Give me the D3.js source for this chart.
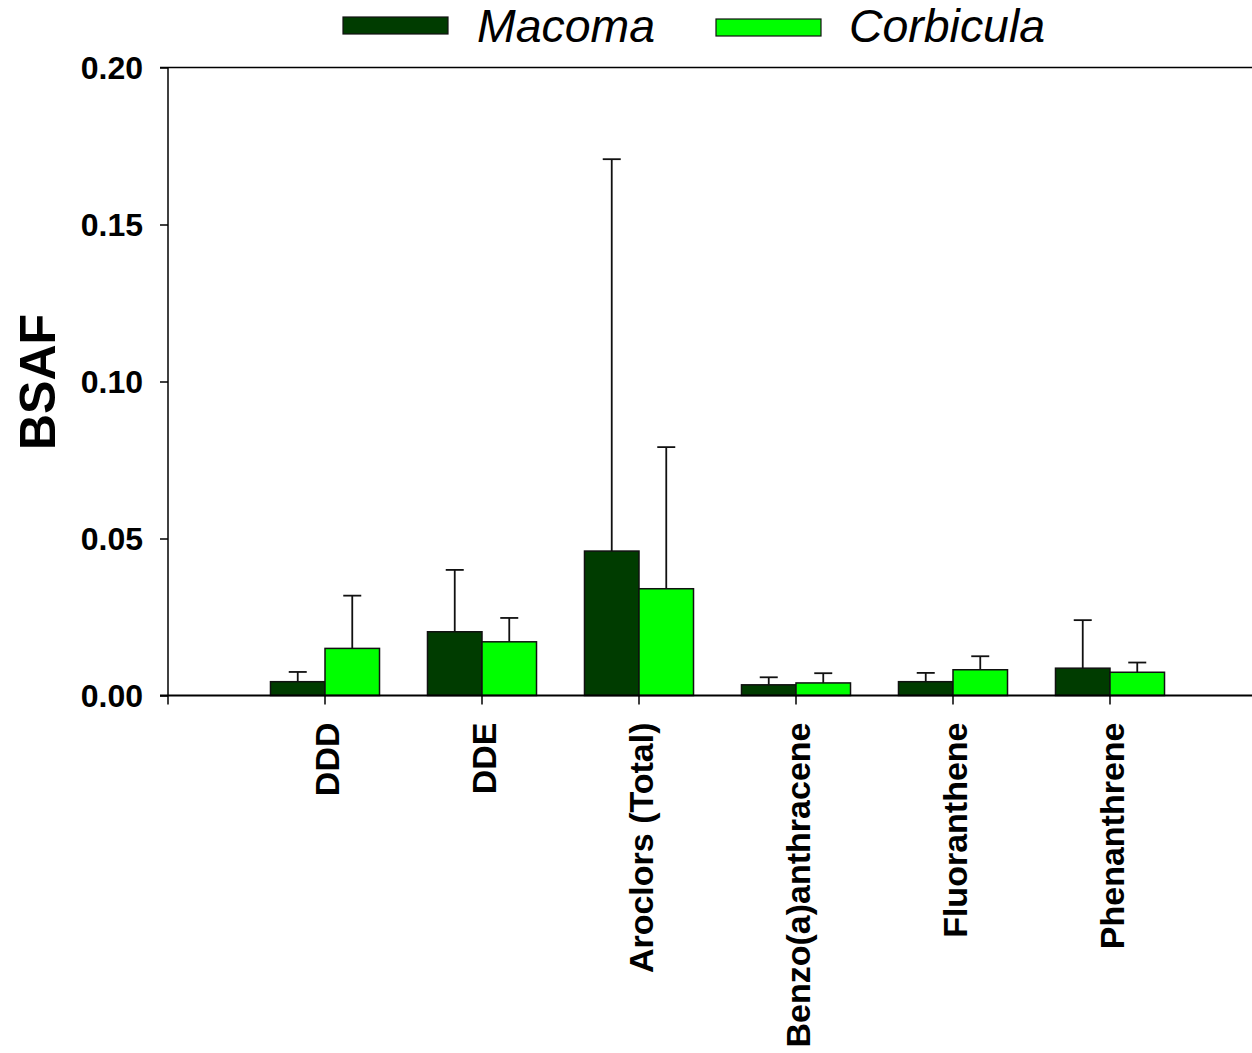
<!DOCTYPE html>
<html><head><meta charset="utf-8">
<script src="https://cdn.jsdelivr.net/npm/d3@7"></script>
<style>body{margin:0;background:#fff}svg{display:block}text{font-family:"Liberation Sans",Arial,sans-serif}</style>
</head><body><svg id="c" width="1252" height="1053"></svg>
<script>
const categories = ["DDD","DDE","Aroclors (Total)","Benzo(a)anthracene","Fluoranthene","Phenanthrene"];
const seriesNames = ["Macoma","Corbicula"];
const macoma = [0.0044,0.0203,0.0460,0.0034,0.0044,0.0087];
const macomaErr = [0.0075,0.0400,0.1708,0.0058,0.0072,0.0240];
const corbicula = [0.0150,0.0171,0.0340,0.0040,0.0082,0.0074];
const corbiculaErr = [0.0318,0.0247,0.0791,0.0071,0.0125,0.0105];
const yTicks = [0,0.05,0.10,0.15,0.20];
const yTickLabels = ["0.00","0.05","0.10","0.15","0.20"];
const colors = ["#003c00","#00ff00"];

const svg = d3.select("#c");
const x0 = 168, x1 = 1252, yTop = 67.5, yBot = 695.5;
const step = 157;
const x = d3.scaleBand().domain(categories).range([x0+step/2, x0+step/2+step*categories.length]).padding(0);
const xs = d3.scaleBand().domain(seriesNames).range([0, x.bandwidth()]).paddingInner(0).paddingOuter(0.44);
const y = d3.scaleLinear().domain([0,0.20]).range([yBot,yTop]);

const data = [
  {name:"Macoma", vals:macoma, errs:macomaErr, color:colors[0]},
  {name:"Corbicula", vals:corbicula, errs:corbiculaErr, color:colors[1]}
];

data.forEach(s=>{
  const g = svg.append("g");
  categories.forEach((c,i)=>{
    const cx = x(c)+xs(s.name)+xs.bandwidth()/2;
    g.append("line").attr("x1",cx).attr("x2",cx).attr("y1",y(s.vals[i])).attr("y2",y(s.errs[i])).attr("stroke","#111").attr("stroke-width",1.8);
    g.append("line").attr("x1",cx-9).attr("x2",cx+9).attr("y1",y(s.errs[i])).attr("y2",y(s.errs[i])).attr("stroke","#111").attr("stroke-width",1.8);
  });
});
data.forEach(s=>{
  svg.append("g").selectAll("rect").data(categories).join("rect")
    .attr("x",(c)=>x(c)+xs(s.name))
    .attr("width",xs.bandwidth())
    .attr("y",(c,i)=>y(s.vals[i]))
    .attr("height",(c,i)=>yBot-y(s.vals[i]))
    .attr("fill",s.color).attr("stroke","#111").attr("stroke-width",1.5);
});

const yAxis = d3.axisLeft(y).tickValues(yTicks).tickFormat((d,i)=>yTickLabels[i]).tickSize(8).tickPadding(17);
const gy = svg.append("g").attr("transform",`translate(${x0},0)`).call(yAxis);
gy.select(".domain").remove();
gy.selectAll(".tick line").attr("stroke","#000").attr("stroke-width",1.5);
gy.selectAll(".tick text").attr("font-size",32).attr("font-weight","bold").attr("fill","#000").attr("dy","0.35em");
svg.append("line").attr("x1",x0).attr("x2",x0).attr("y1",yTop).attr("y2",yBot+9).attr("stroke","#000").attr("stroke-width",1.5);
svg.append("line").attr("x1",x0-8).attr("x2",x1).attr("y1",yTop).attr("y2",yTop).attr("stroke","#000").attr("stroke-width",1.5);
svg.append("line").attr("x1",x0-8).attr("x2",x1).attr("y1",yBot).attr("y2",yBot).attr("stroke","#000").attr("stroke-width",2);

const xAxis = d3.axisBottom(x).tickSize(9).tickSizeOuter(0);
const gx = svg.append("g").attr("transform",`translate(0,${yBot})`).call(xAxis);
gx.select(".domain").remove();
gx.selectAll(".tick line").attr("stroke","#000").attr("stroke-width",1.5);
gx.selectAll(".tick text").attr("font-size",34).attr("font-weight","bold").attr("fill","#000")
  .attr("text-anchor","end").attr("transform","translate(2,27) rotate(-90)").attr("x",0).attr("y",0).attr("dy","0.35em");

svg.append("text").attr("transform","translate(37,382) rotate(-90)").attr("text-anchor","middle")
  .attr("dy","0.35em").attr("font-size",50).attr("font-weight","bold").text("BSAF");

const leg = [{sx:343,sy:17,tx:477},{sx:716,sy:19,tx:849}];
data.forEach((s,i)=>{
  svg.append("rect").attr("x",leg[i].sx).attr("y",leg[i].sy).attr("width",105).attr("height",17)
    .attr("fill",s.color).attr("stroke","#111").attr("stroke-width",1.2);
  svg.append("text").attr("x",leg[i].tx).attr("y",26).attr("dy","0.35em").attr("font-size",46)
    .attr("font-style","italic").attr("textLength",i===0?178:196).attr("lengthAdjust","spacingAndGlyphs").text(s.name);
});
</script></body></html>
